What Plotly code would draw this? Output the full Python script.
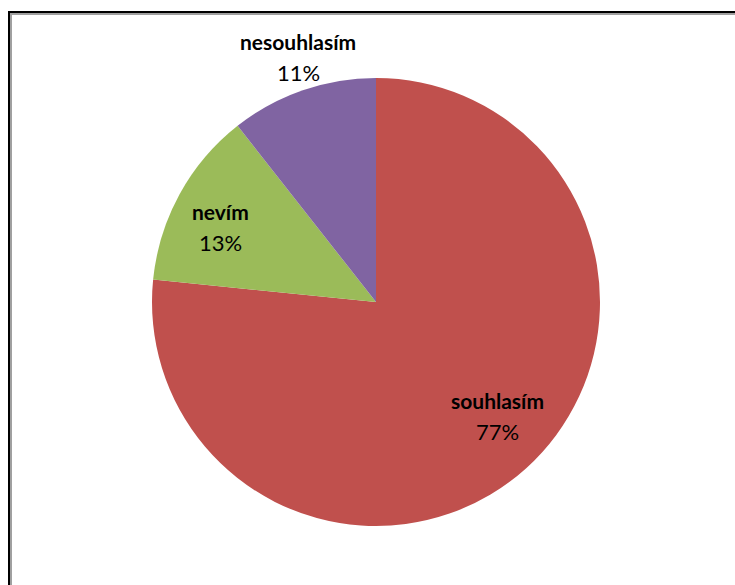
import plotly.graph_objects as go

# Survey answers and their shares (percent)
labels = ["souhlasím", "nevím", "nesouhlasím"]
values = [76.6, 12.8, 10.6]
colors = ["#C0504D", "#9BBB59", "#8064A2"]

W, H = 735, 585
CX, CY, R = 376, 302, 224  # pie centre and radius in pixels

# data label anchor (x centre, text baseline midway between the two lines), pixels
label_anchor = [(497, 424), (221, 235), (298, 65)]
LINE_GAP = 31
NAME_SIZE, PCT_SIZE = 21, 22
FONT = "Lato"

fig = go.Figure(
    go.Pie(
        labels=labels,
        values=values,
        marker=dict(colors=colors, line=dict(width=0)),
        sort=False,
        direction="clockwise",
        rotation=0,
        textinfo="none",
        hoverinfo="label+percent",
        showlegend=False,
        domain=dict(
            x=[(CX - R) / W, (CX + R) / W],
            y=[(H - CY - R) / H, (H - CY + R) / H],
        ),
    )
)


def px_x(x):
    return x / W


def px_y(y):
    return 1 - y / H


total = sum(values)
annotations = []
for lab, val, (ax, ay) in zip(labels, values, label_anchor):
    name_base = ay - LINE_GAP / 2
    pct_base = ay + LINE_GAP / 2
    annotations.append(
        dict(
            x=px_x(ax), y=px_y(name_base - 0.36 * NAME_SIZE),
            xref="paper", yref="paper", showarrow=False,
            text=f"<b>{lab}</b>",
            font=dict(family=FONT, size=NAME_SIZE, color="#000000"),
            xanchor="center", yanchor="middle",
        )
    )
    annotations.append(
        dict(
            x=px_x(ax), y=px_y(pct_base - 0.36 * PCT_SIZE),
            xref="paper", yref="paper", showarrow=False,
            text=f"{round(val / total * 100)}%",
            font=dict(family=FONT, size=PCT_SIZE, color="#000000"),
            xanchor="center", yanchor="middle",
        )
    )

# chart-area frame: dark outer line with a grey inner line (top and left edges)
shapes = [
    dict(type="line", xref="paper", yref="paper", x0=px_x(8), x1=1.01,
         y0=px_y(12), y1=px_y(12), line=dict(color="#000000", width=2)),
    dict(type="line", xref="paper", yref="paper", x0=px_x(9), x1=px_x(9),
         y0=px_y(11), y1=-0.01, line=dict(color="#000000", width=2)),
    dict(type="line", xref="paper", yref="paper", x0=px_x(10), x1=1.01,
         y0=px_y(14), y1=px_y(14), line=dict(color="#A0A0A0", width=2)),
    dict(type="line", xref="paper", yref="paper", x0=px_x(11), x1=px_x(11),
         y0=px_y(13), y1=-0.01, line=dict(color="#A0A0A0", width=2)),
]

fig.update_layout(
    width=W,
    height=H,
    margin=dict(l=0, r=0, t=0, b=0),
    paper_bgcolor="#FFFFFF",
    plot_bgcolor="#FFFFFF",
    annotations=annotations,
    shapes=shapes,
)

fig.write_html("out.html")
